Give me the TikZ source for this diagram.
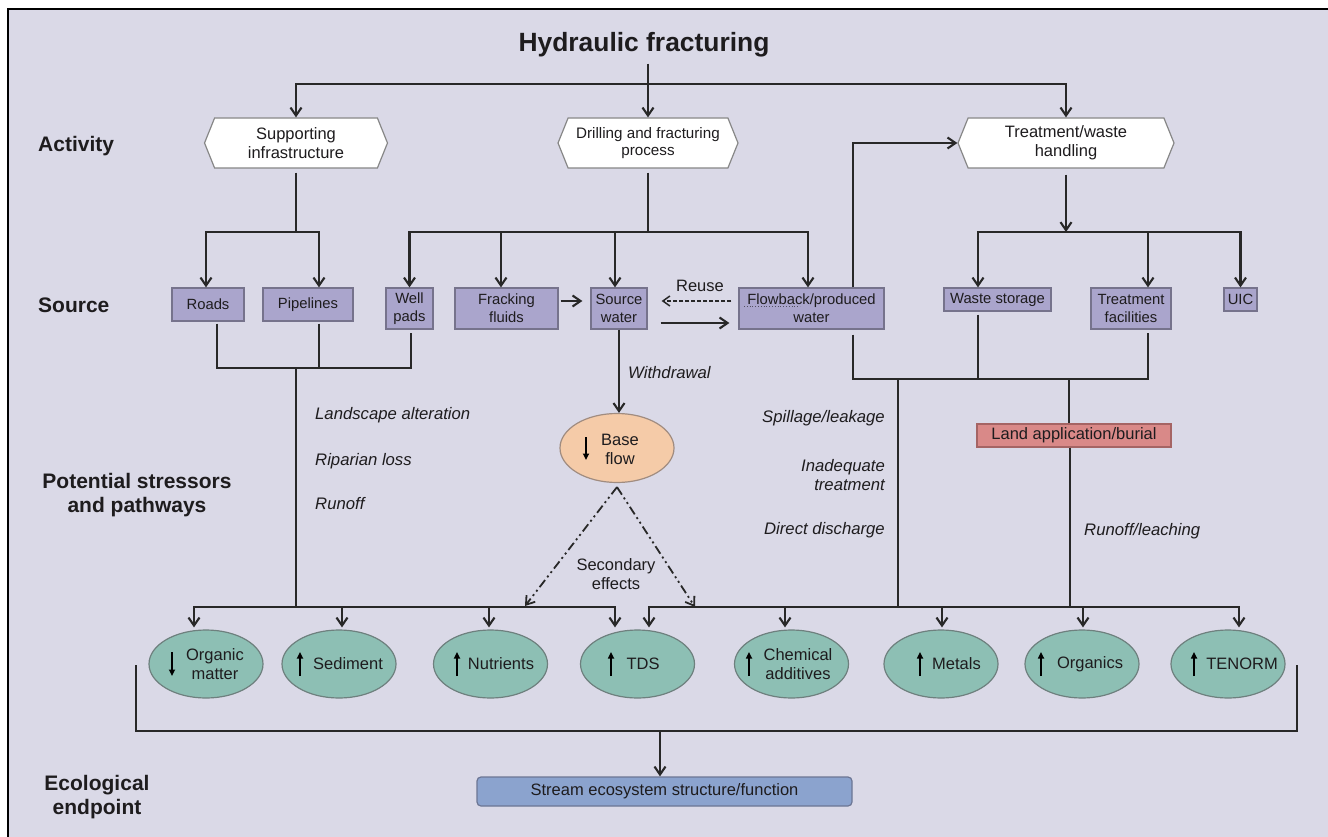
\documentclass[tikz,border=0pt]{standalone}
\usepackage{fontspec}
\setmainfont{Liberation Sans}
\usetikzlibrary{arrows.meta,calc,shapes.geometric,shapes.symbols}

\definecolor{bgc}{RGB}{218,217,231}
\definecolor{linec}{RGB}{40,40,40}
\definecolor{txtc}{RGB}{30,28,30}
\definecolor{srcf}{RGB}{170,165,204}
\definecolor{srcb}{RGB}{118,115,140}
\definecolor{hexb}{RGB}{135,135,135}
\definecolor{ellf}{RGB}{141,191,180}
\definecolor{ellb}{RGB}{110,128,126}
\definecolor{basef}{RGB}{245,203,168}
\definecolor{baseb}{RGB}{160,140,128}
\definecolor{landf}{RGB}{217,137,136}
\definecolor{landb}{RGB}{165,100,100}
\definecolor{strf}{RGB}{139,163,206}
\definecolor{strb}{RGB}{108,118,148}

\newcommand\myFtitle{\fontsize{26.4}{30}\selectfont\bfseries}
\newcommand\myFsrc{\fontsize{14.8}{18}\selectfont}
\newcommand\myFhex{\fontsize{16.5}{19}\selectfont}
\newcommand\myFhexs{\fontsize{15.2}{17.5}\selectfont}
\newcommand\myFell{\fontsize{16.5}{19}\selectfont}
\newcommand\myFlab{\fontsize{21}{24}\selectfont\bfseries}
\newcommand\myFit{\fontsize{16.7}{18.5}\selectfont\itshape}

\begin{document}
\begin{tikzpicture}[x=1pt,y=-1pt,
  line/.style={draw=linec, line width=2.1pt},
  arr/.style={line, -{Straight Barb[length=8pt,width=11pt]}},
  darr/.style={draw=linec, line width=1.8pt, dash pattern=on 9pt off 3.5pt on 2pt off 3.5pt on 2pt off 3.5pt, -{Straight Barb[length=8pt,width=11pt]}},
  rarr/.style={draw=linec, line width=1.5pt, dash pattern=on 4pt off 2pt, -{Straight Barb[length=7pt,width=10pt]}},
  src/.style={rectangle, draw=srcb, fill=srcf, line width=1.2pt, inner sep=0pt, align=center, font=\myFsrc, text=txtc},
  hexs/.style={signal, signal to=east and west, signal pointer angle=136, draw=hexb, fill=white, line width=1.2pt, minimum height=50pt, inner sep=0pt, align=center, font=\myFhex, text=txtc},
  ell/.style={ellipse, draw=ellb, fill=ellf, line width=1.2pt, minimum width=114pt, minimum height=68pt, inner sep=0pt},
  etxt/.style={font=\myFell, align=center, inner sep=0pt, text=txtc},
  lab/.style={font=\myFlab, align=center, inner sep=0pt, text=txtc},
  itl/.style={font=\myFit, inner sep=0pt, text=txtc},
  garr/.style={draw=black, line width=1.6pt, -{Triangle[length=6.5pt,width=6pt]}}
]
\useasboundingbox (0,0) rectangle (1328,837);
\fill[white] (0,0) rectangle (1328,837);
\fill[bgc] (8,9) rectangle (1328,837);
\draw[black, line width=1.4pt] (8,837) -- (8,9) -- (1328,9);

% ---------- title and activities
\node[font=\myFtitle, inner sep=0pt, text=txtc] (title) at (644,45) {Hydraulic fracturing};
\node[hexs, minimum width=183pt] (sup) at (296,143) {Supporting\\infrastructure};
\node[hexs, minimum width=180pt, font=\myFhexs] (drill) at (648,143) {Drilling and fracturing\\process};
\node[hexs, minimum width=216pt] (treat) at (1066,143) {Treatment/waste\\handling};

% ---------- sources
\node[src, minimum width=72pt, minimum height=33pt] (roads) at (208,304.5) {Roads};
\node[src, minimum width=90pt, minimum height=33pt] (pipe) at (308,304.5) {Pipelines};
\node[src, minimum width=47pt, minimum height=41pt] (well) at (409.5,308.5) {Well\\pads};
\node[src, minimum width=103pt, minimum height=41pt] (frack) at (506.5,308.5) {Fracking\\fluids};
\node[src, minimum width=56pt, minimum height=41pt] (srcw) at (619,308.5) {Source\\water};
\node[src, minimum width=145pt, minimum height=41pt] (flow) at (811.5,308.5) {Flowback/produced\\water};
\node[src, minimum width=107pt, minimum height=23pt] (waste) at (997.5,299.5) {Waste storage};
\node[src, minimum width=80pt, minimum height=41pt] (tfac) at (1131,308.5) {Treatment\\facilities};
\node[src, minimum width=33pt, minimum height=23pt] (uic) at (1240.5,299.5) {UIC};
\draw[dotted, line width=0.8pt, draw=srcb!70!black] (744,306) -- (800,306);

% ---------- middle nodes
\node[ell, fill=basef, draw=baseb, minimum height=69pt] (base) at (617,448) {};
\node[etxt] (t-base) at (620,449) {Base\\flow};
\draw[garr] ($(base.center)+(-31,-11)$) -- ($(base.center)+(-31,12)$);
\node[rectangle, draw=landb, fill=landf, line width=1.2pt, minimum width=194pt, minimum height=23pt, inner sep=0pt, font=\myFell, text=txtc] (land) at (1074,435.5) {Land application/burial};

% ---------- stressor ellipses
\node[ell] (om) at (206,664) {};
\node[ell] (sed) at (339,664) {};
\node[ell] (nut) at (490.5,664) {};
\node[ell] (tds) at (637.5,664) {};
\node[ell] (chem) at (791.5,664) {};
\node[ell] (met) at (941,664) {};
\node[ell] (org) at (1082,664) {};
\node[ell] (ten) at (1228,664) {};
\node[etxt] (t-om) at (215,664) {Organic\\matter};
\node[etxt] (t-sed) at (348,664) {Sediment};
\node[etxt] (t-nut) at (501,664) {Nutrients};
\node[etxt] (t-tds) at (643,664) {TDS};
\node[etxt] (t-chem) at (798,664) {Chemical\\additives};
\node[etxt] (t-met) at (956.5,664) {Metals};
\node[etxt] (t-org) at (1090,664) {Organics};
\node[etxt] (t-ten) at (1242,664) {TENORM};
\draw[garr] ($(om.center)+(-34,-12)$) -- ($(om.center)+(-34,12)$);
\draw[garr] ($(sed.center)+(-39,12)$) -- ($(sed.center)+(-39,-12)$);
\draw[garr] ($(nut.center)+(-33.5,12)$) -- ($(nut.center)+(-33.5,-12)$);
\draw[garr] ($(tds.center)+(-26.5,12)$) -- ($(tds.center)+(-26.5,-12)$);
\draw[garr] ($(chem.center)+(-42.5,12)$) -- ($(chem.center)+(-42.5,-12)$);
\draw[garr] ($(met.center)+(-21,12)$) -- ($(met.center)+(-21,-12)$);
\draw[garr] ($(org.center)+(-41,12)$) -- ($(org.center)+(-41,-12)$);
\draw[garr] ($(ten.center)+(-34,12)$) -- ($(ten.center)+(-34,-12)$);

\node[rectangle, rounded corners=4pt, draw=strb, fill=strf, line width=1.2pt, minimum width=375pt, minimum height=29pt, inner sep=0pt, font=\myFell, text=txtc] (stream) at (664.5,791.5) {Stream ecosystem structure/function};

% ---------- row labels
\node[lab, anchor=west] (l-act) at (38,146) {Activity};
\node[lab, anchor=west] (l-src) at (38,305) {Source};
\node[lab] (l-pot) at (137,495) {Potential stressors\\and pathways};
\node[lab] (l-eco) at (97,797) {Ecological\\endpoint};

% ---------- italic pathway labels
\node[itl, anchor=west] (i-land) at (315,415) {Landscape alteration};
\node[itl, anchor=west] (i-rip) at (315,461) {Riparian loss};
\node[itl, anchor=west] (i-run) at (315,504) {Runoff};
\node[itl, anchor=west] (i-wd) at (628,373) {Withdrawal};
\node[itl, anchor=east] (i-spill) at (885,418) {Spillage/leakage};
\node[itl, anchor=east, align=right] (i-inad) at (885,475) {Inadequate\\treatment};
\node[itl, anchor=east] (i-dd) at (885,530) {Direct discharge};
\node[itl, anchor=west] (i-rl) at (1084,531) {Runoff/leaching};
\node[etxt] (reuse) at (700,286) {Reuse};
\node[etxt] (sec) at (616,574) {Secondary\\effects};

% ---------- connectors: top
\coordinate (hy) at (648,84);
\draw[arr, shorten <=6pt] (title.south -| drill.north) -- (drill.north);
\draw[arr] (hy) -| (sup.north);
\draw[arr] (hy) -| (treat.north);

% supporting infrastructure
\coordinate (sj) at (296,232);
\draw[line, shorten <=4pt] (sup.south) -- (sj);
\draw[arr] (sj) -| ($(roads.north)+(-2,0)$);
\draw[arr] (sj) -| ($(pipe.north)+(11,0)$);

% drilling
\coordinate (dj) at (648,232);
\draw[line, shorten <=4pt] (drill.south) -- (dj);
\draw[arr] (dj) -| (well.north);
\draw[arr] (dj) -| ($(frack.north)+(-5.5,0)$);
\draw[arr] (dj) -| ($(srcw.north)+(-4,0)$);
\draw[arr] (dj) -| ($(flow.north)+(-3.5,0)$);

% treatment
\coordinate (tj) at (treat.south |- dj);
\draw[arr, shorten <=6pt] (treat.south) -- (tj);
\draw[arr] (tj) -| ($(waste.north)+(-19.5,0)$);
\draw[arr] (tj) -| ($(tfac.north)+(17,0)$);
\draw[arr] (tj) -| (uic.north);

% flowback to treatment
\draw[arr] ($(flow.north)+(41.5,0)$) |- (treat.west);

% fracking / source / flowback
\draw[arr] ($(frack.east)+(2,-7.5)$) -- ($(srcw.west)+(-8,-7.5)$);
\draw[rarr] ($(flow.west)+(-7,-7.5)$) -- ($(srcw.east)+(14,-7.5)$);
\draw[arr] ($(srcw.east)+(13,14.5)$) -- ($(flow.west)+(-9,14.5)$);

% withdrawal
\draw[arr] (srcw.south) -- (srcw.south |- base.north);

% left collector
\coordinate (sb) at (296,368);
\coordinate (rb) at ($(roads.south)+(9,2)$);
\coordinate (pb) at ($(pipe.south)+(11,2)$);
\coordinate (wb) at ($(well.south)+(1.5,3)$);
\draw[line] (rb) |- (sb) -| (wb);
\draw[line] (pb) -- (pb |- sb);
\coordinate (lj) at (296,607);
\draw[line] (sb) -- (lj);

% arrow targets on ellipses
\coordinate (a-om) at ($(om.north)+(-12,-2)$);
\coordinate (a-sed) at ($(sed.north)+(3,-2)$);
\coordinate (a-nut) at ($(nut.north)+(-1.5,-2)$);
\coordinate (a-tdsL) at ($(tds.north)+(-22.5,-2)$);
\coordinate (a-tdsR) at ($(tds.north)+(11.5,-2)$);
\coordinate (a-chem) at ($(chem.north)+(-6.5,-2)$);
\coordinate (a-met) at ($(met.north)+(1,-2)$);
\coordinate (a-org) at ($(org.north)+(1,-2)$);
\coordinate (a-ten) at ($(ten.north)+(11,-2)$);

\draw[arr] (lj) -| (a-om);
\draw[arr] (lj) -| (a-tdsL);
\draw[arr] (a-sed |- lj) -- (a-sed);
\draw[arr] (a-nut |- lj) -- (a-nut);

% right collector
\coordinate (rj) at (898,607);
\coordinate (fb) at ($(flow.south)+(41.5,5)$);
\coordinate (wsb) at ($(waste.south)+(-19.5,3)$);
\coordinate (tfb) at ($(tfac.south)+(17,3)$);
\coordinate (mj) at (898,379);
\draw[line] (fb) |- (mj) -| (tfb);
\draw[line] (wsb) -- (wsb |- mj);
\draw[line] (mj) -- (rj);
\coordinate (lt) at ($(land.north)+(-5,0)$);
\draw[line] (lt |- mj) -- (lt);
\coordinate (lbt) at ($(land.south)+(-4,0)$);
\draw[line] (lbt) -- (lbt |- rj);

\draw[arr] (rj) -| (a-tdsR);
\draw[arr] (rj) -| (a-ten);
\draw[arr] (a-chem |- rj) -- (a-chem);
\draw[arr] (a-met |- rj) -- (a-met);
\draw[arr] (a-org |- rj) -- (a-org);

% secondary effects
\coordinate (apex) at ($(base.south)+(0,4)$);
\coordinate (s-l) at (525,606);
\coordinate (s-r) at (695,607);
\draw[darr] (apex) -- (s-l);
\draw[darr] (apex) -- (s-r);

% bottom bracket to endpoint
\coordinate (bkL) at ($(om.west)+(-12,1)$);
\coordinate (bkR) at ($(ten.east)+(11,1)$);
\coordinate (bkm) at (660,731);
\draw[line] (bkL) |- (bkm) -| (bkR);
\draw[arr] (bkm) -- (bkm |- stream.north);
\end{tikzpicture}
\end{document}
